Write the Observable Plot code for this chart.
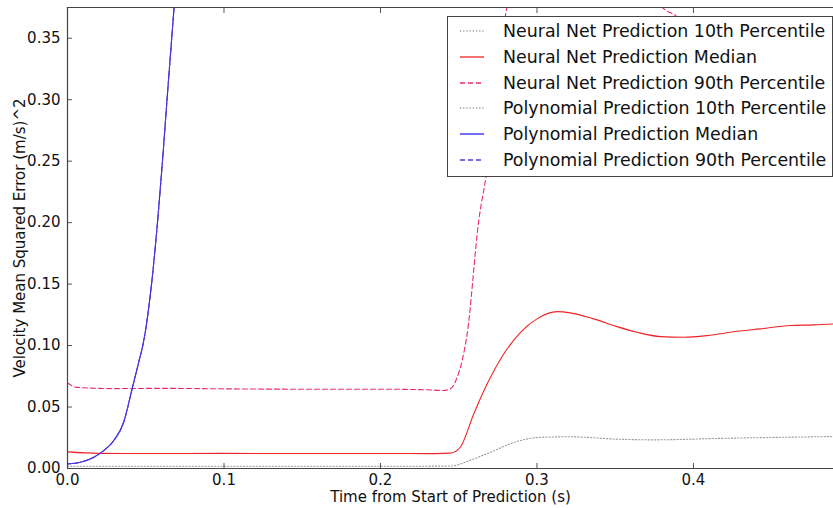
<!DOCTYPE html>
<html>
<head>
<meta charset="utf-8">
<script src="https://cdn.jsdelivr.net/npm/d3@7"></script>
<script src="https://cdn.jsdelivr.net/npm/@observablehq/plot@0.6"></script>
<style>
  html, body { margin: 0; padding: 0; background: #fff; }
  #wrap { position: relative; width: 833px; height: 508px; font-family: "DejaVu Sans", sans-serif; }
  #legend { position: absolute; left: 447px; top: 16px; width: 386px; height: 161px; box-sizing: border-box;
            border: 1px solid #444; background: #fff; }
  .row { position: absolute; left: 0; height: 26px; display: flex; align-items: center; }
  .row svg { margin-left: 12px; }
  .row span { margin-left: 19px; font-size: 17.4px; color: #111; white-space: nowrap; }
</style>
</head>
<body>
<div id="wrap"></div>
<script>
// ---- data ----
const nnP10T = [0, 0.1, 0.2, 0.245, 0.256, 0.268, 0.2895, 0.304, 0.321, 0.353, 0.3747, 0.417, 0.4895];
const nnP10V = [0.0018, 0.0018, 0.0018, 0.002, 0.006, 0.012, 0.0228, 0.0255, 0.0258, 0.0238, 0.0233, 0.0245, 0.026];

const nnMedT = [0, 0.02, 0.05, 0.1, 0.15, 0.2, 0.235, 0.2447, 0.251, 0.2596, 0.2682, 0.2788, 0.2895, 0.300, 0.3129, 0.3214, 0.3363, 0.3512, 0.364, 0.379, 0.3938, 0.4088, 0.428, 0.4428, 0.462, 0.4769, 0.4895];
const nnMedV = [0.0135, 0.0123, 0.0122, 0.0123, 0.0122, 0.0122, 0.0121, 0.0125, 0.0173, 0.0444, 0.0689, 0.0932, 0.1108, 0.1217, 0.1276, 0.1266, 0.1217, 0.1154, 0.1108, 0.1073, 0.1068, 0.1081, 0.1116, 0.1136, 0.1163, 0.1168, 0.1176];

const nnP90T = [0, 0.006, 0.03, 0.06, 0.1, 0.15, 0.2, 0.23, 0.24, 0.2447, 0.249, 0.2522, 0.2554, 0.2628, 0.2675, 0.2807, 0.29, 0.31, 0.34, 0.365, 0.382, 0.389, 0.40, 0.44, 0.4895];
const nnP90V = [0.0695, 0.066, 0.065, 0.0652, 0.0648, 0.0645, 0.0645, 0.064, 0.0635, 0.0648, 0.0742, 0.0878, 0.1095, 0.2016, 0.238, 0.375, 0.42, 0.45, 0.43, 0.40, 0.373, 0.368, 0.35, 0.33, 0.32];

const polyT    = [0, 0.0083, 0.0168, 0.0232, 0.0296, 0.036, 0.0413, 0.0456, 0.0486, 0.0537, 0.0575, 0.0607, 0.0636, 0.0666, 0.0681, 0.072];
const polyP10V = [0.0038, 0.0051, 0.0092, 0.0146, 0.0228, 0.038, 0.0648, 0.087, 0.103, 0.15, 0.20, 0.25, 0.30, 0.35, 0.375, 0.44];
const polyMedV = [0.0038, 0.0051, 0.0092, 0.0146, 0.0228, 0.038, 0.0648, 0.087, 0.103, 0.15, 0.20, 0.25, 0.30, 0.35, 0.375, 0.44];
const polyP90V = [0.0038, 0.0051, 0.0092, 0.0146, 0.0228, 0.038, 0.0648, 0.087, 0.103, 0.15, 0.20, 0.25, 0.30, 0.35, 0.375, 0.44];

const xTicks = [0.0, 0.1, 0.2, 0.3, 0.4];
const yTicks = [0.00, 0.05, 0.10, 0.15, 0.20, 0.25, 0.30, 0.35];

const seriesNames = [
  "Neural Net Prediction 10th Percentile",
  "Neural Net Prediction Median",
  "Neural Net Prediction 90th Percentile",
  "Polynomial Prediction 10th Percentile",
  "Polynomial Prediction Median",
  "Polynomial Prediction 90th Percentile"
];
const seriesColors = ["#9a9a9a", "#f02424", "#f0286c", "#9a9a9a", "#2222ea", "#5a3adc"];
const seriesDash = ["1.2,2", null, "5,3", "1.2,2", null, "5,3"];

// ---- build ----
const toRows = (t, v) => t.map((x, i) => ({t: x, v: v[i]}));
const series = [
  toRows(nnP10T, nnP10V),
  toRows(nnMedT, nnMedV),
  toRows(nnP90T, nnP90V),
  toRows(polyT, polyP10V),
  toRows(polyT, polyMedV),
  toRows(polyT, polyP90V)
];

const lineMarks = series.map((rows, i) => Plot.line(rows, {
  x: "t", y: "v", stroke: seriesColors[i], strokeWidth: 1.1,
  strokeDasharray: seriesDash[i] ?? undefined, curve: "monotone-x", clip: true
}));

const chart = Plot.plot({
  width: 833,
  height: 508,
  marginLeft: 67,
  marginRight: 0,
  marginTop: 7,
  marginBottom: 40,
  style: {fontFamily: "DejaVu Sans, sans-serif", fontSize: "15px", color: "#111", background: "#fff"},
  x: {domain: [0, 0.4895]},
  y: {domain: [0, 0.375]},
  marks: [
    ...lineMarks,
    Plot.axisX({ticks: xTicks, tickFormat: d3.format(".1f"), tickSize: -5, tickPadding: 11, fontSize: 15, stroke: "#555", label: null}),
    Plot.axisY({ticks: yTicks, tickFormat: d3.format(".2f"), tickSize: -5, tickPadding: 12, fontSize: 15, stroke: "#555", label: null}),
    Plot.axisX({ticks: xTicks, anchor: "top", tickSize: -5, tickFormat: () => "", stroke: "#555", label: null}),
    Plot.ruleY([0], {stroke: "#444", strokeWidth: 1.2}),
    Plot.ruleX([0], {stroke: "#444", strokeWidth: 1.2}),
    Plot.frame({anchor: "top", stroke: "#444", strokeWidth: 1.2}),
    Plot.text(["Time from Start of Prediction (s)"], {frameAnchor: "bottom", lineAnchor: "top", dy: 23, fontSize: 15, fill: "#111"}),
    Plot.text(["Velocity Mean Squared Error (m/s)^2"], {frameAnchor: "left", textAnchor: "middle", lineAnchor: "middle", dx: -47, rotate: -90, fontSize: 15, fill: "#111"})
  ]
});

const wrap = document.getElementById("wrap");
wrap.appendChild(chart);

// legend overlay
const legend = document.createElement("div");
legend.id = "legend";
seriesNames.forEach((name, i) => {
  const row = document.createElement("div");
  row.className = "row";
  row.style.top = (1 + i * 25.8) + "px";
  const dash = seriesDash[i] ? `stroke-dasharray="${seriesDash[i]}"` : "";
  row.innerHTML = `<svg width="24" height="6"><line x1="0" y1="3" x2="24" y2="3" stroke="${seriesColors[i]}" stroke-width="1.3" ${dash}/></svg><span>${name}</span>`;
  legend.appendChild(row);
});
wrap.appendChild(legend);
</script>
</body>
</html>
